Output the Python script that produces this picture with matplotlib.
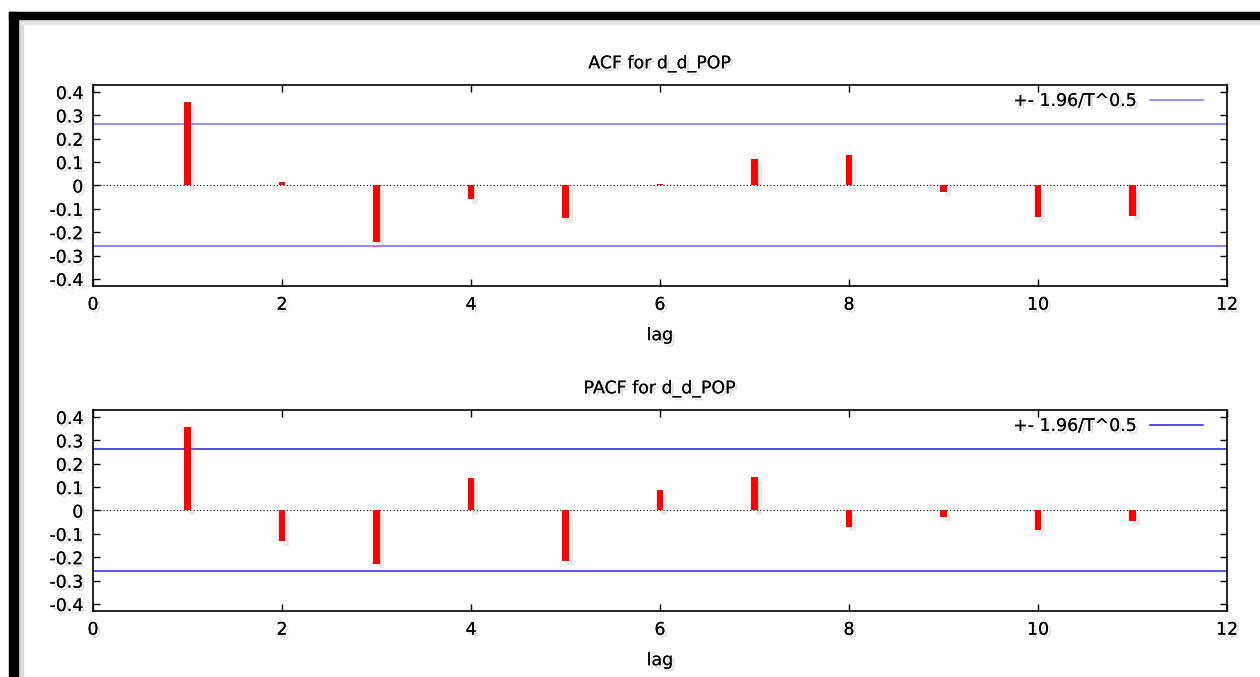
import matplotlib
matplotlib.use("Agg")
from matplotlib import pyplot as plt
from matplotlib.patches import Rectangle
import matplotlib.patheffects as pe
import numpy as np

## data
lags = [1, 2, 3, 4, 5, 6, 7, 8, 9, 10, 11]
acf = [0.359, 0.013, -0.244, -0.060, -0.141, 0.006, 0.115, 0.132, -0.026, -0.137, -0.132]
pacf = [0.357, -0.132, -0.230, 0.140, -0.217, 0.089, 0.145, -0.072, -0.026, -0.085, -0.043]
band = 0.261
var_name = "d_d_POP"
band_label = "+- 1.96/T^0.5"

FS = 12.5
plt.rcParams['font.family'] = ['DejaVu Sans']
plt.rcParams['font.size'] = FS

shadow = [pe.withSimplePatchShadow(offset=(2, -2), shadow_rgbFace='#999999', alpha=0.3), pe.Normal()]

fig = plt.figure(figsize=(12.6, 6.77), dpi=100)
fig.patch.set_facecolor('white')

## screenshot frame: black bars top and left with a soft grey edge
fig.patches.append(Rectangle((0.007, 0), 0.007, 1 - 12 / 677, transform=fig.transFigure, color='black', zorder=5))
fig.patches.append(Rectangle((0.007, 1 - 19 / 677), 0.993, 7 / 677, transform=fig.transFigure, color='black', zorder=5))
fig.patches.append(Rectangle((0.014, 0), 0.004, 1 - 19 / 677, transform=fig.transFigure, color='#dddddd', zorder=4))
fig.patches.append(Rectangle((0.014, 1 - 24 / 677), 0.986, 5 / 677, transform=fig.transFigure, color='#e6e6e6', zorder=4))

panels = [
    (acf, "ACF for " + var_name, [0.0738, 0.5776, 0.900, 0.2969], '#7575f2', '#6e6ef0'),
    (pacf, "PACF for " + var_name, [0.0738, 0.0975, 0.900, 0.2969], '#2020c8', '#2a2aee'),
]

for vals, title, rect, upper_col, lower_col in panels:
    ax = fig.add_axes(rect)
    ax.bar(lags, vals, width=0.065, color='red', zorder=3,
           path_effects=[pe.withSimplePatchShadow(offset=(3, -3), shadow_rgbFace='#999999', alpha=0.2), pe.Normal()])
    ax.axhline(0, color='black', lw=0.8, ls=(0, (1, 2)), zorder=2)
    ax.axhline(band, color=upper_col, lw=1.1, label=band_label, zorder=2)
    ax.axhline(-band, color=lower_col, lw=1.1, zorder=2)

    ax.set_xlim(0, 12)
    ax.set_ylim(-0.43, 0.43)
    ax.set_xticks(np.arange(0, 13, 2))
    ax.set_yticks(np.round(np.arange(-0.4, 0.41, 0.1), 1))
    ax.set_yticklabels(['-0.4', '-0.3', '-0.2', '-0.1', '0', '0.1', '0.2', '0.3', '0.4'])
    ax.tick_params(direction='in', length=5, width=1, top=True, right=True, pad=7)
    for lab in ax.get_xticklabels() + ax.get_yticklabels():
        lab.set_path_effects(shadow)
    for s in ax.spines.values():
        s.set_linewidth(1.2)

    ax.set_title(title, pad=12, fontsize=FS, path_effects=shadow)
    ax.set_xlabel("lag", labelpad=9, path_effects=shadow)

    leg = ax.legend(loc='upper right', bbox_to_anchor=(0.985, 1.0), borderaxespad=0,
                    frameon=False, markerfirst=False, handlelength=3.05,
                    handletextpad=0.75, fontsize=FS)
    for t in leg.get_texts():
        t.set_path_effects(shadow)

fig.savefig("out.png", dpi=100)
